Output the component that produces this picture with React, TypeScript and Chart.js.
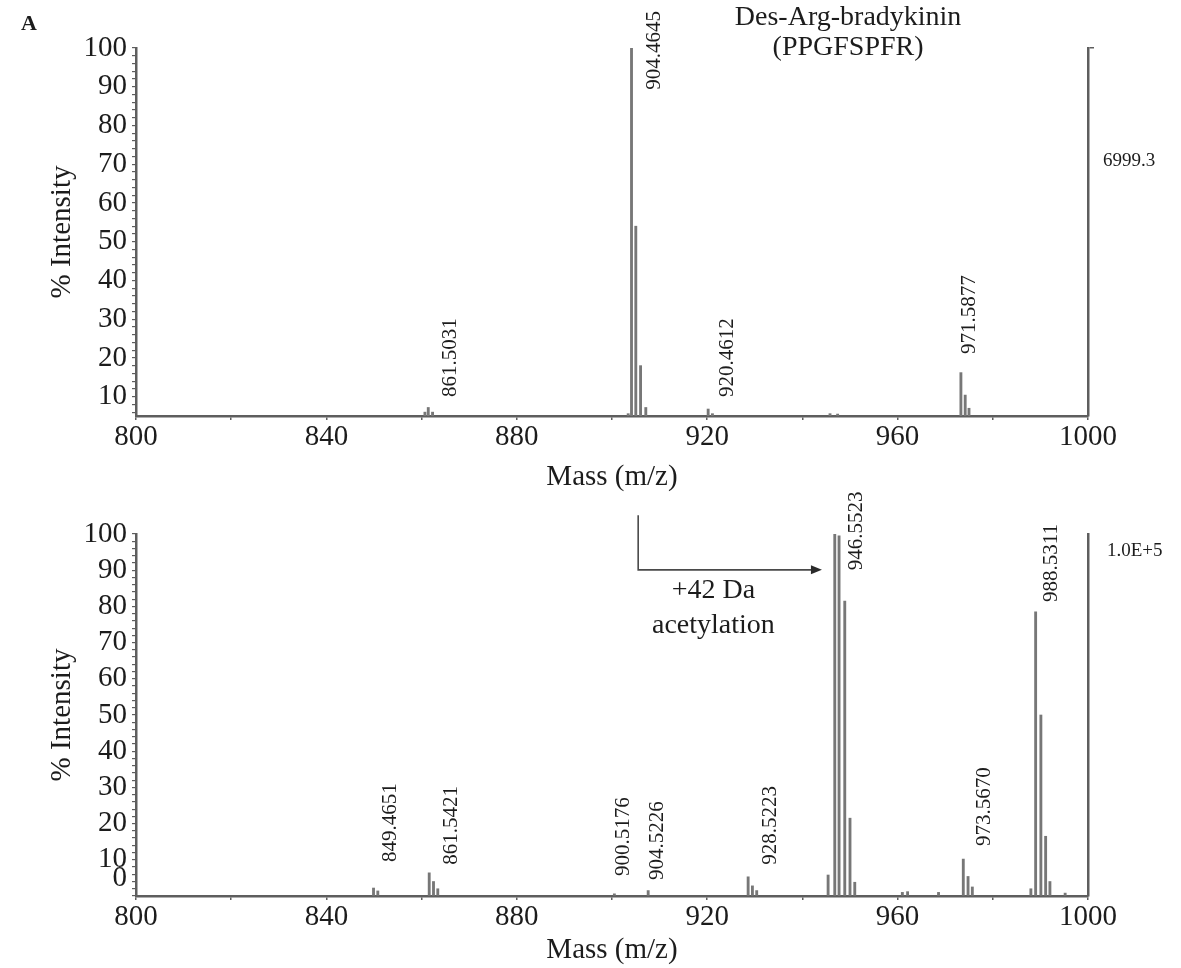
import React, { useEffect, useRef } from 'react';
import { Chart, registerables } from 'chart.js';

Chart.register(...registerables);

// ---------- data ----------
const xTickValues = [800, 820, 840, 860, 880, 900, 920, 940, 960, 980, 1000];
const xLabelValues = [800, 840, 880, 920, 960, 1000];
const yLabelValuesTop = [10, 20, 30, 40, 50, 60, 70, 80, 90, 100];
const yLabelValuesBottom = [0, 10, 20, 30, 40, 50, 60, 70, 80, 90, 100];

const topMasses = [860.7, 861.4, 862.3, 903.4, 904.1, 905.0, 906.0, 907.1, 920.2, 921.1, 945.8, 947.4, 973.3, 974.2, 975.0];
const topIntensities = [6.0, 7.2, 6.0, 5.6, 100, 54, 18, 7.2, 6.8, 5.6, 5.6, 5.5, 16.2, 10.4, 7.0];

const bottomMasses = [849.9, 850.8, 861.6, 862.5, 863.4, 900.5, 907.6, 928.6, 929.5, 930.4, 945.4, 946.8, 947.7, 948.9, 950.0, 951.0, 961.0, 962.1, 968.6, 973.8, 974.8, 975.7, 988.0, 989.0, 990.1, 991.1, 992.0, 995.2];
const bottomIntensities = [2.2, 1.4, 6.4, 4.0, 2.0, 0.6, 1.5, 5.3, 2.8, 1.5, 5.8, 100, 99.5, 81.5, 21.5, 3.8, 1.0, 1.2, 1.0, 10.2, 5.4, 2.5, 2.0, 78.5, 50, 16.5, 4.0, 0.8];

const topPeakLabels = ['861.5031', '904.4645', '920.4612', '971.5877'];
const topLabelMasses = [866.0, 909.0, 924.2, 975.2];
const topLabelBases = [9.9, 89.2, 9.9, 21.0];

const bottomPeakLabels = ['849.4651', '861.5421', '900.5176', '904.5226', '928.5223', '946.5523', '973.5670', '988.5311'];
const bottomLabelMasses = [853.4, 866.2, 902.5, 909.5, 933.2, 951.3, 978.2, 992.4];
const bottomLabelBases = [9.4, 8.6, 5.5, 4.4, 8.6, 90.0, 13.8, 81.2];

const topScaleLabel = '6999.3';
const bottomScaleLabel = '1.0E+5';
const topTitleLines = ['Des-Arg-bradykinin', '(PPGFSPFR)'];
const annotationLines = ['+42 Da', 'acetylation'];

// ---------- style ----------
const FONT = "'Liberation Serif', 'Times New Roman', serif";
const TEXT = '#1c1c1c';
const AXIS = '#5e5e5e';
const PEAK = '#777777';

type Panel = {
  id: string;
  masses: number[];
  intensities: number[];
  yMin: number;
  yLabels: number[];
  yTickStart: number;
  labels: string[];
  labelMasses: number[];
  labelBases: number[];
  scaleLabel: string;
  scaleLabelValue: number;
  scaleLabelGap: number;
  padTop: number;
  xAxisHeight: number;
  xTitlePad: number;
  rightStub: boolean;
  extra: (chart: any) => void;
};

function drawTopExtras(chart: any) {
  const { ctx, scales } = chart;
  const x = scales.x;
  const y = scales.y;
  ctx.save();
  ctx.fillStyle = TEXT;
  ctx.textAlign = 'center';
  ctx.textBaseline = 'middle';
  ctx.font = `28px ${FONT}`;
  const cx = x.getPixelForValue(949.6);
  ctx.fillText(topTitleLines[0], cx, y.getPixelForValue(107.8));
  ctx.fillText(topTitleLines[1], cx, y.getPixelForValue(100));
  ctx.font = `bold 22px ${FONT}`;
  ctx.textAlign = 'left';
  ctx.fillText('A', 21, 24);
  ctx.restore();
}

function drawBottomExtras(chart: any) {
  const { ctx, scales } = chart;
  const x = scales.x;
  const y = scales.y;
  const x0 = x.getPixelForValue(905.5);
  const x1 = x.getPixelForValue(944.1);
  const yTop = y.getPixelForValue(105.2);
  const yArr = y.getPixelForValue(90.1);
  ctx.save();
  ctx.strokeStyle = '#4a4a4a';
  ctx.fillStyle = '#2a2a2a';
  ctx.lineWidth = 1.6;
  ctx.beginPath();
  ctx.moveTo(x0, yTop);
  ctx.lineTo(x0, yArr);
  ctx.lineTo(x1 - 8, yArr);
  ctx.stroke();
  ctx.beginPath();
  ctx.moveTo(x1, yArr);
  ctx.lineTo(x1 - 11, yArr - 4.5);
  ctx.lineTo(x1 - 11, yArr + 4.5);
  ctx.closePath();
  ctx.fill();
  ctx.fillStyle = TEXT;
  ctx.font = `28px ${FONT}`;
  ctx.textAlign = 'center';
  ctx.textBaseline = 'middle';
  const cx = x.getPixelForValue(921.3);
  ctx.fillText(annotationLines[0], cx, y.getPixelForValue(84.4));
  ctx.fillText(annotationLines[1], cx, y.getPixelForValue(74.8));
  ctx.restore();
}

function textPlugin(p: Panel) {
  return {
    id: 'panelText' + p.id,
    afterDraw(chart: any) {
      const { ctx, scales, chartArea } = chart;
      const x = scales.x;
      const y = scales.y;
      ctx.save();
      ctx.fillStyle = TEXT;
      ctx.font = `21px ${FONT}`;
      p.labels.forEach((t, i) => {
        const px = x.getPixelForValue(p.labelMasses[i]);
        const py = y.getPixelForValue(p.labelBases[i]);
        ctx.save();
        ctx.translate(px, py);
        ctx.rotate(-Math.PI / 2);
        ctx.textAlign = 'left';
        ctx.textBaseline = 'middle';
        ctx.fillText(t, 0, 0);
        ctx.restore();
      });
      ctx.font = `19px ${FONT}`;
      ctx.textAlign = 'left';
      ctx.textBaseline = 'middle';
      ctx.fillText(p.scaleLabel, chartArea.right + p.scaleLabelGap, y.getPixelForValue(p.scaleLabelValue));
      ctx.restore();
      p.extra(chart);
    },
  };
}

function buildConfig(p: Panel): any {
  const yTicks: number[] = [];
  for (let v = p.yTickStart; v <= 100; v += 2) yTicks.push(v);
  return {
    type: 'bar',
    data: {
      datasets: [
        {
          data: p.masses.map((m, i) => ({ x: m, y: p.intensities[i] })),
          backgroundColor: PEAK,
          borderColor: '#555555',
          borderWidth: 0,
          barThickness: 2.2,
          grouped: false,
        },
      ],
    },
    options: {
      responsive: false,
      animation: false,
      events: [],
      layout: { padding: { left: 0, right: 93, top: p.padTop, bottom: 0 } },
      plugins: { legend: { display: false }, tooltip: { enabled: false }, title: { display: false } },
      scales: {
        x: {
          type: 'linear',
          min: 800,
          max: 1000,
          offset: false,
          afterBuildTicks: (s: any) => {
            s.ticks = xTickValues.map((v) => ({ value: v }));
          },
          afterFit: (s: any) => {
            s.height = p.xAxisHeight;
          },
          ticks: {
            autoSkip: false,
            maxRotation: 0,
            padding: 0,
            color: TEXT,
            font: { family: FONT, size: 29 },
            callback: (v: number) => (xLabelValues.includes(v) ? String(v) : ''),
          },
          grid: { display: true, offset: false, drawOnChartArea: false, drawTicks: true, tickLength: 4, color: AXIS, lineWidth: 1.5 },
          border: { display: true, color: AXIS, width: 2.5 },
          title: {
            display: true,
            text: 'Mass (m/z)',
            color: TEXT,
            font: { family: FONT, size: 29 },
            padding: { top: 0, bottom: p.xTitlePad },
          },
        },
        y: {
          type: 'linear',
          position: 'left',
          min: p.yMin,
          max: 100,
          afterBuildTicks: (s: any) => {
            s.ticks = yTicks.map((v) => ({ value: v }));
          },
          afterFit: (s: any) => {
            s.width = 136;
          },
          ticks: {
            autoSkip: false,
            padding: 5,
            color: TEXT,
            font: { family: FONT, size: 29 },
            callback: (v: number) => {
              if (!p.yLabels.includes(v)) return '';
              return v === 0 ? ['0', ''] : String(v);
            },
          },
          grid: { display: true, drawOnChartArea: false, drawTicks: true, tickLength: 4, color: AXIS, lineWidth: 1.2 },
          border: { display: true, color: AXIS, width: 2.5 },
          title: {
            display: true,
            text: '% Intensity',
            color: TEXT,
            font: { family: FONT, size: 29 },
            padding: { top: 45, bottom: 0 },
          },
        },
        y2: {
          type: 'linear',
          position: 'right',
          display: true,
          min: p.yMin,
          max: 100,
          afterBuildTicks: (s: any) => {
            s.ticks = [{ value: 100 }];
          },
          afterFit: (s: any) => {
            s.width = 0;
          },
          ticks: { display: false },
          grid: { display: p.rightStub, drawOnChartArea: false, drawTicks: true, tickLength: 6, color: AXIS, lineWidth: 1.5 },
          border: { display: true, color: AXIS, width: 2.5 },
        },
      },
    },
    plugins: [textPlugin(p)],
  };
}

const topPanel: Panel = {
  id: 'top',
  masses: topMasses,
  intensities: topIntensities,
  yMin: 5,
  yLabels: yLabelValuesTop,
  yTickStart: 6,
  labels: topPeakLabels,
  labelMasses: topLabelMasses,
  labelBases: topLabelBases,
  scaleLabel: topScaleLabel,
  scaleLabelValue: 70.8,
  scaleLabelGap: 15,
  padTop: 48,
  xAxisHeight: 84,
  xTitlePad: 5,
  rightStub: true,
  extra: drawTopExtras,
};

const bottomPanel: Panel = {
  id: 'bottom',
  masses: bottomMasses,
  intensities: bottomIntensities,
  yMin: 0,
  yLabels: yLabelValuesBottom,
  yTickStart: 0,
  labels: bottomPeakLabels,
  labelMasses: bottomLabelMasses,
  labelBases: bottomLabelBases,
  scaleLabel: bottomScaleLabel,
  scaleLabelValue: 95.3,
  scaleLabelGap: 19,
  padTop: 64,
  xAxisHeight: 72,
  xTitlePad: 0,
  rightStub: false,
  extra: drawBottomExtras,
};

function SpectrumCanvas({ panel, top, height }: { panel: Panel; top: number; height: number }) {
  const ref = useRef<HTMLCanvasElement | null>(null);
  useEffect(() => {
    if (!ref.current) return;
    const chart = new Chart(ref.current, buildConfig(panel));
    return () => chart.destroy();
  }, [panel]);
  return (
    <canvas
      ref={ref}
      width={1181}
      height={height}
      style={{ position: 'absolute', left: 0, top, width: 1181, height }}
    />
  );
}

export default function App() {
  return (
    <div style={{ position: 'absolute', left: 0, top: 0, width: 1181, height: 968, background: '#ffffff', overflow: 'hidden' }}>
      <SpectrumCanvas panel={topPanel} top={0} height={500} />
      <SpectrumCanvas panel={bottomPanel} top={470} height={498} />
    </div>
  );
}
